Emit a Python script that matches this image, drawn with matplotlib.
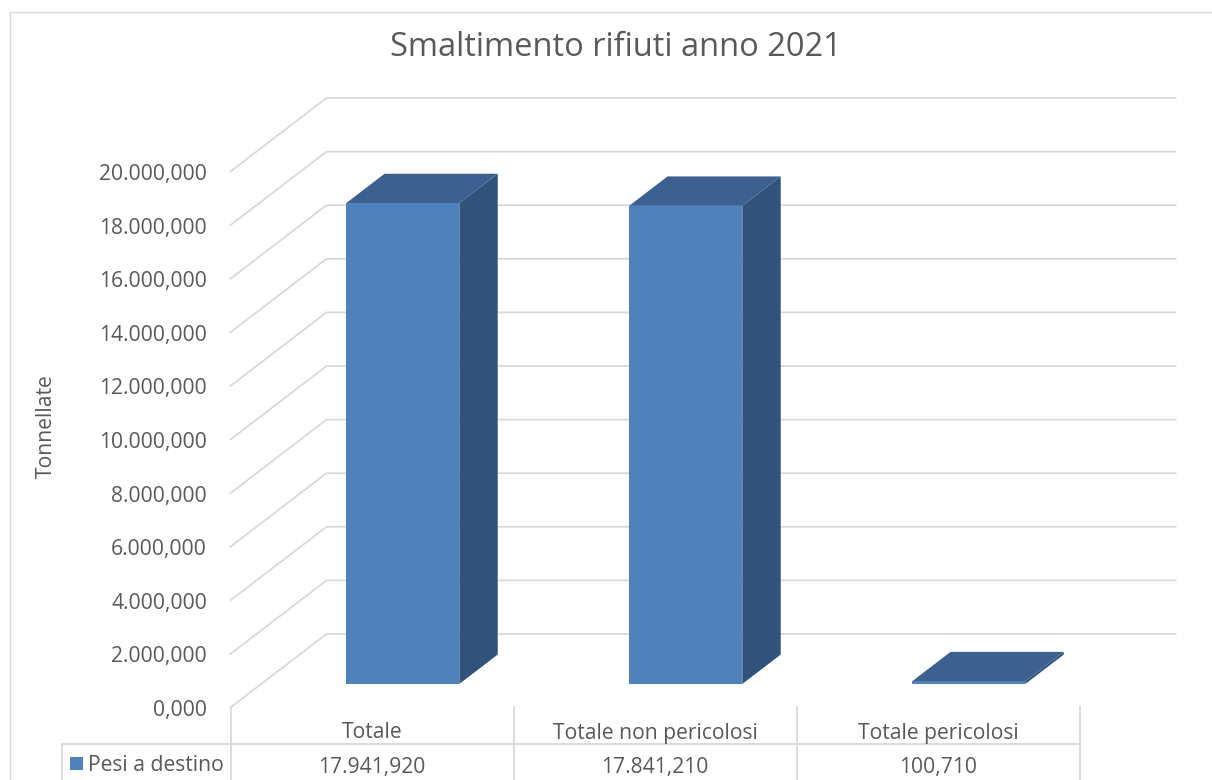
import matplotlib
matplotlib.use('Agg')
import matplotlib.pyplot as plt
from matplotlib.patches import Polygon, Rectangle
from matplotlib.lines import Line2D
from matplotlib.transforms import blended_transform_factory

# font simile a quello di Excel
plt.rcParams['font.family'] = ['Open Sans', 'DejaVu Sans']

# dati
categorie = ['Totale', 'Totale non pericolosi', 'Totale pericolosi']
serie_nome = 'Pesi a destino'
pesi = [17941.920, 17841.210, 100.710]
tick_valori = [0, 2000, 4000, 6000, 8000, 10000, 12000, 14000, 16000, 18000, 20000]
titolo = 'Smaltimento rifiuti anno 2021'
asse_y = 'Tonnellate'

# colori
GRIGIO_TESTO = '#595959'
GRIGIO_LINEE = '#D9D9D9'
BLU_FRONTE = '#4F81BD'
BLU_SOPRA = '#3C6190'
BLU_LATO = '#31527A'

W, H = 1212, 780


def fx(px):
    return px / W


def fy(py):
    return 1 - py / H


def fmt_it(v):
    """formato italiano: 17.941,920"""
    s = f"{v:,.3f}"
    return s.replace(',', 'X').replace('.', ',').replace('X', '.')


# profondita' della vista 3D (in unita' dati)
DX = 96 / 283
DY = 73.5 / 26.8 * 1000


def proj(x, y, d):
    """proiezione obliqua: d=0 davanti, d=1 parete di fondo"""
    return x + d * DX, y + d * DY


fig = plt.figure(figsize=(W / 100, H / 100), dpi=100)
renderer = fig.canvas.get_renderer()


def larghezza(testo, size):
    t = fig.text(0, 0, testo, fontsize=size)
    w = t.get_window_extent(renderer).width
    t.remove()
    return w


# dimensione del font calibrata sulla larghezza delle etichette
FS = 15 * 107 / larghezza('20.000,000', 15)
FS_TITOLO = 20 * 452 / larghezza(titolo, 20)

ax = fig.add_axes([fx(230.5), fy(707.5), (1175.5 - 230.5) / W, (707.5 - 98) / H])
ax.set_xlim(0, len(categorie) + DX)
ax.set_ylim(0, tick_valori[-1] + DY)
ax.axis('off')

# griglia su parete laterale e di fondo
n = len(categorie)
for t in tick_valori:
    pts = [proj(0, t, 0), proj(0, t, 1), proj(n, t, 1)]
    ax.plot([p[0] for p in pts], [p[1] for p in pts], color=GRIGIO_LINEE,
            lw=1.3, zorder=1, clip_on=False)
    ax.annotate(fmt_it(t), xy=proj(0, t, 0), xytext=(-23.5, -8.5),
                textcoords='offset pixels', ha='right', va='baseline',
                fontsize=FS, color=GRIGIO_TESTO, annotation_clip=False)

# colonne 3D
w = 0.2
d0, d1 = 0.32, 0.72
for i, v in enumerate(pesi):
    c = i + 0.5
    fronte = [proj(c - w, 0, d0), proj(c + w, 0, d0), proj(c + w, v, d0), proj(c - w, v, d0)]
    sopra = [proj(c - w, v, d0), proj(c + w, v, d0), proj(c + w, v, d1), proj(c - w, v, d1)]
    lato = [proj(c + w, 0, d0), proj(c + w, 0, d1), proj(c + w, v, d1), proj(c + w, v, d0)]
    ax.add_patch(Polygon(lato, closed=True, facecolor=BLU_LATO, edgecolor='none', zorder=3))
    ax.add_patch(Polygon(sopra, closed=True, facecolor=BLU_SOPRA, edgecolor='none', zorder=3))
    ax.add_patch(Polygon(fronte, closed=True, facecolor=BLU_FRONTE, edgecolor='none', zorder=4))

# tabella dati sotto il grafico
trans = blended_transform_factory(ax.transData, fig.transFigure)
for i in range(n + 1):
    fig.add_artist(Line2D([i, i], [0, fy(707)], transform=trans,
                          color=GRIGIO_LINEE, lw=1.3))
fig.add_artist(Line2D([0, n], [fy(743.5), fy(743.5)], transform=trans,
                      color=GRIGIO_LINEE, lw=1.3))
fig.add_artist(Line2D([fx(62), fx(230.5)], [fy(743.5), fy(743.5)],
                      transform=fig.transFigure, color=GRIGIO_LINEE, lw=1.3))
fig.add_artist(Line2D([fx(62), fx(62)], [0, fy(743.5)],
                      transform=fig.transFigure, color=GRIGIO_LINEE, lw=1.3))

for i, (cat, v) in enumerate(zip(categorie, pesi)):
    fig.text(i + 0.5, fy(738.5), cat, transform=trans, ha='center', va='baseline',
             fontsize=FS, color=GRIGIO_TESTO)
    fig.text(i + 0.5, fy(772.5), fmt_it(v), transform=trans, ha='center', va='baseline',
             fontsize=FS, color=GRIGIO_TESTO)

fig.add_artist(Rectangle((fx(70), fy(770)), 13 / W, 13 / H,
                         transform=fig.transFigure, facecolor=BLU_FRONTE, edgecolor='none'))
fig.text(fx(88), fy(771), serie_nome, ha='left', va='baseline', fontsize=FS, color=GRIGIO_TESTO)

# titolo e asse y
fig.text(fx(616), fy(56), titolo, ha='center', va='baseline', fontsize=FS_TITOLO,
         color=GRIGIO_TESTO)
fig.text(fx(46.5), fy(426), asse_y, rotation=90, ha='center', va='center',
         fontsize=FS, color=GRIGIO_TESTO)

# bordo dell'area grafico
fig.add_artist(Line2D([fx(10), fx(10), 1], [0, fy(12), fy(12)],
                      transform=fig.transFigure, color=GRIGIO_LINEE, lw=1.0))

fig.savefig('out.png', dpi=100)
